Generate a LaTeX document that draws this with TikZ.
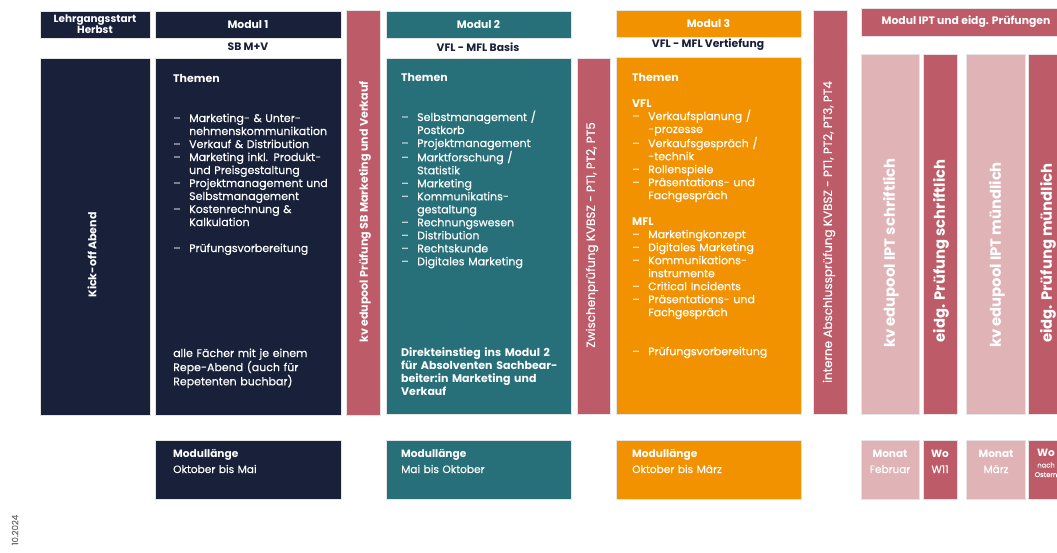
\documentclass[tikz,border=0pt]{standalone}
\usepackage{fontspec}
\setmainfont{Poppins}[UprightFeatures={FakeBold=0.25}]
\definecolor{navy}{HTML}{18203A}
\definecolor{tealc}{HTML}{276F79}
\definecolor{orng}{HTML}{F39200}
\definecolor{rose}{HTML}{BD5B68}
\definecolor{pinkc}{HTML}{E0B4B7}
\definecolor{dategray}{HTML}{6E6E6E}
\newcommand{\itm}[1]{\makebox[16pt][l]{–}#1}
\newcommand{\cnt}[1]{\hspace*{16pt}#1}
\newcommand{\bx}[6]{\node[boxsty,fill=#6,minimum width={(#4)-(#2)},minimum height={(#5)-(#3)}] (#1) at ({((#2)+(#4))/2},{((#3)+(#5))/2}) {};}
\tikzset{
  boxsty/.style={rectangle,inner sep=0pt,outer sep=0pt,draw=black!10,line width=0.4pt},
  body/.style={text=white,inner sep=0pt,anchor=base west,align=left,text width=180pt,font=\fontsize{11}{13}\selectfont},
  hdr/.style={text=white,inner sep=0pt,font=\bfseries\fontsize{10.8}{11.5}\selectfont,align=center},
  sub/.style={text=navy,inner sep=0pt,font=\bfseries\fontsize{10.8}{12}\selectfont},
  rotb/.style={text=white,inner sep=0pt,rotate=90,font=\bfseries\fontsize{11.1}{13}\selectfont},
  rotr/.style={text=white,inner sep=0pt,rotate=90,font=\fontsize{12}{14}\selectfont},
  rotbig/.style={text=white,inner sep=0pt,rotate=90,font=\bfseries\fontsize{14.8}{17}\selectfont},
  small/.style={text=white,inner sep=0pt,anchor=base,align=center,text width=56pt,font=\fontsize{10.5}{16}\selectfont},
  lenbox/.style={body,font=\fontsize{10.6}{16}\selectfont},
}
\begin{document}
\begin{tikzpicture}[x=1pt,y=-1pt]
\useasboundingbox (0,0) rectangle (1057,552);
\clip (0,0) rectangle (1057,552);
% header row
\bx{lhs}{40}{11}{150}{38}{navy}
\bx{m1h}{155}{11}{341}{38}{navy}
\bx{r1}{346}{10}{380}{415}{rose}
\bx{m2h}{386}{11}{571}{38}{tealc}
\bx{m3h}{616}{10}{801}{37}{orng}
\bx{r3}{813}{10}{847}{414}{rose}
\bx{ipth}{861}{8}{1071}{36}{rose}
% main row
\bx{kick}{40}{58}{150}{415}{navy}
\bx{m1}{155}{58}{341}{415}{navy}
\bx{m2}{386}{58}{571}{414}{tealc}
\bx{r2}{577}{58}{610}{414}{rose}
\bx{m3}{616}{57}{801}{414}{orng}
\bx{p1}{861}{54}{919}{414}{pinkc}
\bx{p2}{923}{54}{957}{414}{rose}
\bx{p3}{966}{54}{1025}{414}{pinkc}
\bx{p4}{1028}{54}{1066}{414}{rose}
% bottom row
\bx{b1}{155}{440}{341}{499}{navy}
\bx{b2}{386}{440}{571}{499}{tealc}
\bx{b3}{616}{440}{801}{499}{orng}
\bx{q1}{861}{440}{919}{499}{pinkc}
\bx{q2}{923}{440}{957}{499}{rose}
\bx{q3}{966}{440}{1025}{499}{pinkc}
\bx{q4}{1028}{440}{1066}{499}{rose}
% header texts
\node[hdr,font=\bfseries\fontsize{10.4}{10.8}\selectfont] (lhst) at (lhs.center) {Lehrgangsstart\\Herbst};
\node[hdr] (m1ht) at (m1h.center) {Modul 1};
\node[hdr] (m2ht) at (m2h.center) {Modul 2};
\node[hdr] (m3ht) at (m3h.center) {Modul 3};
\node[hdr,anchor=center] (ipht) at (966,22) {Modul IPT und eidg. Prüfungen};
\node[sub] (s1) at (248,47) {SB M+V};
\node[sub] (s2) at (478,47) {VFL - MFL Basis};
\node[sub] (s3) at (708,45) {VFL - MFL Vertiefung};
% rotated texts
\node[rotb,font=\bfseries\fontsize{11}{13}\selectfont] (kickt) at (92,255) {Kick-off Abend};
\node[rotb] (r1t) at (365,212) {kv edupool Prüfung SB Marketing und Verkauf};
\node[rotr] (r2t) at (592,235) {Zwischenprüfung KVBSZ - PT1, PT2, PT5};
\node[rotr] (r3t) at (829,232) {interne Abschlussprüfung KVBSZ - PT1, PT2, PT3, PT4};
\node[rotbig] (p1t) at (891,253) {kv edupool IPT schriftlich};
\node[rotbig] (p2t) at (941,251) {eidg. Prüfung schriftlich};
\node[rotbig] (p3t) at (997,255) {kv edupool IPT mündlich};
\node[rotbig] (p4t) at (1048,253) {eidg. Prüfung mündlich};
% module 1 content
\node[body] (m1t) at (173,82) {\textbf{Themen}\\[27pt]
\itm{Marketing- \& Unter-}\\
\cnt{nehmenskommunikation}\\
\itm{Verkauf \& Distribution}\\
\itm{Marketing inkl. Produkt-}\\
\cnt{und Preisgestaltung}\\
\itm{Projektmanagement und}\\
\cnt{Selbstmanagement}\\
\itm{Kostenrechnung \&}\\
\cnt{Kalkulation}\\[13pt]
\itm{Prüfungsvorbereitung}};
\node[body] (m1n) at (173,357) {alle Fächer mit je einem\\Repe-Abend (auch für\\Repetenten buchbar)};
% module 2 content
\node[body] (m2t) at (401,81) {\textbf{Themen}\\[27pt]
\itm{Selbstmanagement /}\\
\cnt{Postkorb}\\
\itm{Projektmanagement}\\
\itm{Marktforschung /}\\
\cnt{Statistik}\\
\itm{Marketing}\\
\itm{Kommunikatins-}\\
\cnt{gestaltung}\\
\itm{Rechnungswesen}\\
\itm{Distribution}\\
\itm{Rechtskunde}\\
\itm{Digitales Marketing}};
\node[body,font=\bfseries\fontsize{11}{13}\selectfont] (m2n) at (401,356) {Direkteinstieg ins Modul 2\\für Absolventen Sachbear-\\beiter:in Marketing und\\Verkauf};
% module 3 content
\node[body] (m3t) at (632,81) {\textbf{Themen}\\[13pt]
\textbf{VFL}\\
\itm{Verkaufsplanung /}\\
\cnt{-prozesse}\\
\itm{Verkaufsgespräch /}\\
\cnt{-technik}\\
\itm{Rollenspiele}\\
\itm{Präsentations- und}\\
\cnt{Fachgespräch}\\[13pt]
\textbf{MFL}\\
\itm{Marketingkonzept}\\
\itm{Digitales Marketing}\\
\itm{Kommunikations-}\\
\cnt{instrumente}\\
\itm{Critical Incidents}\\
\itm{Präsentations- und}\\
\cnt{Fachgespräch}\\[26pt]
\itm{Prüfungsvorbereitung}};
% bottom texts
\node[lenbox] (b1t) at (173,457) {\textbf{Modullänge}\\Oktober bis Mai};
\node[lenbox] (b2t) at (401,457) {\textbf{Modullänge}\\Mai bis Oktober};
\node[lenbox] (b3t) at (632,457) {\textbf{Modullänge}\\Oktober bis März};
\node[small] (q1t) at (890,457) {\textbf{Monat}\\Februar};
\node[small] (q2t) at (940,457) {\textbf{Wo}\\W11};
\node[small] (q3t) at (996,457) {\textbf{Monat}\\März};
\node[small] (q4t) at (1046,456) {\textbf{Wo}};
\node[small,text width=40pt,font=\fontsize{6.8}{9.5}\selectfont] (q4s) at (1046,467.5) {nach\\Ostern};
% date
\node[text=dategray,inner sep=0pt,rotate=90,font=\fontsize{8.5}{10}\selectfont] (date) at (15,530) {10.2024};
\end{tikzpicture}
\end{document}
